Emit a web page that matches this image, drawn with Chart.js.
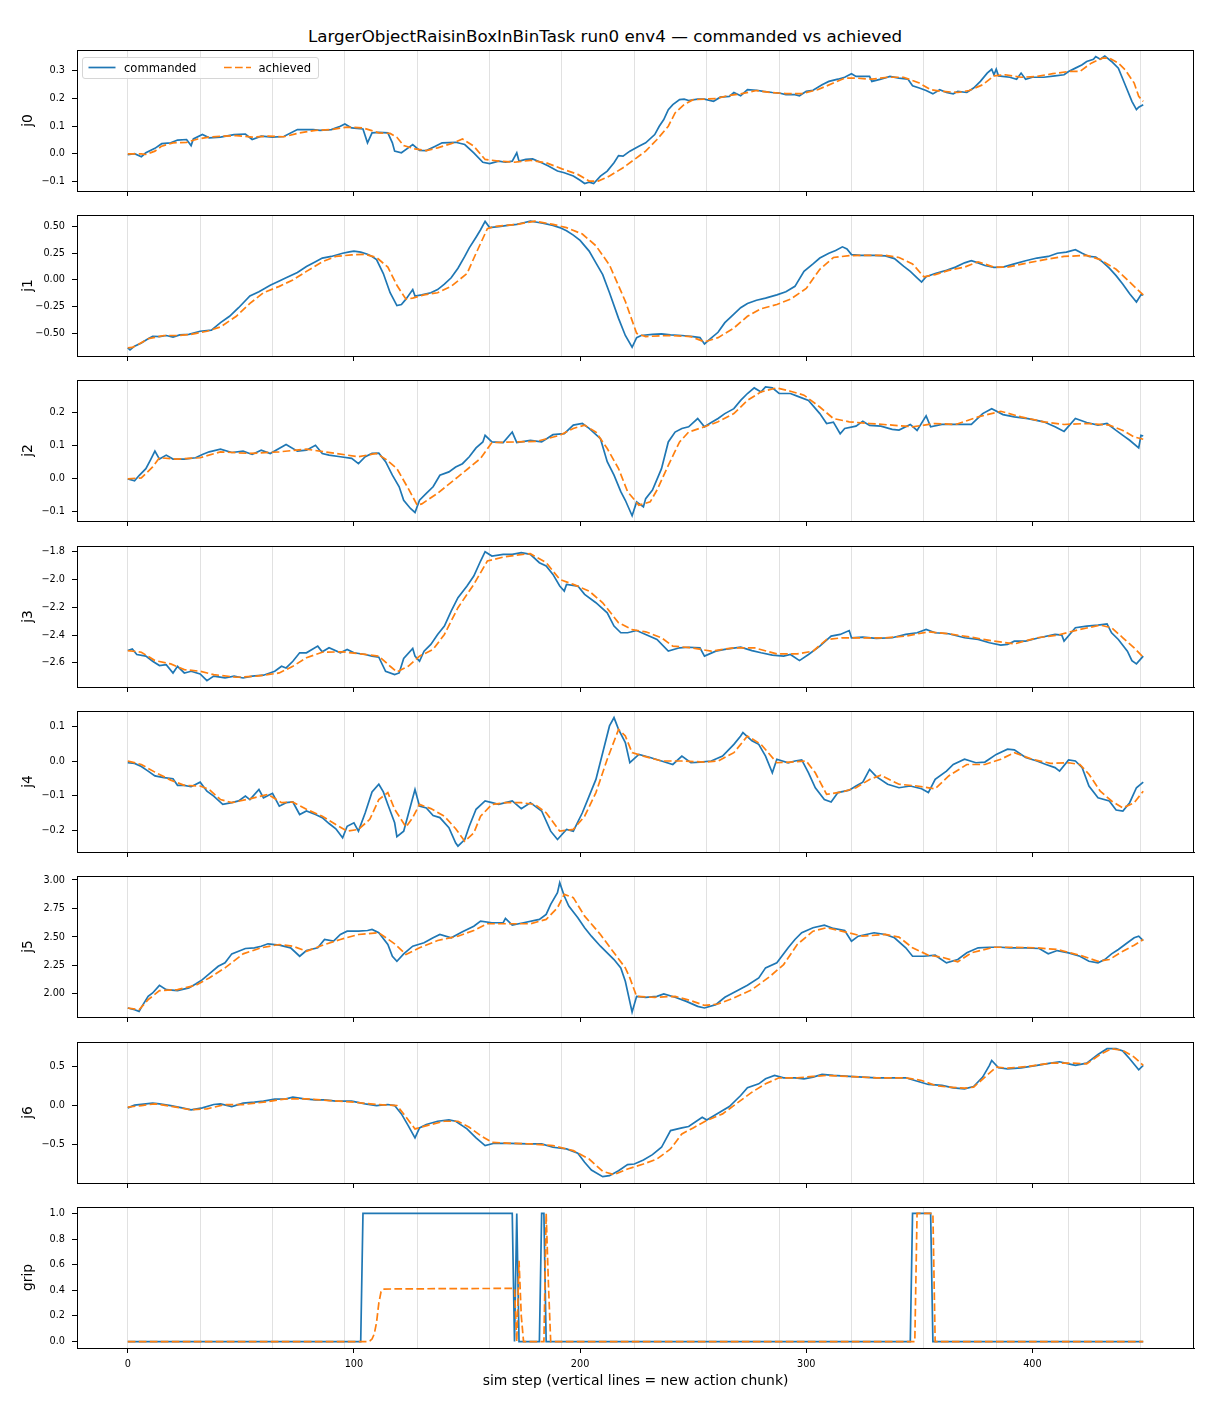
<!DOCTYPE html>
<html>
<head>
<meta charset="utf-8">
<script src="https://cdn.jsdelivr.net/npm/chart.js@4.4.1/dist/chart.umd.min.js"></script>
<style>
  html, body { margin: 0; padding: 0; background: #fff; }
  body { width: 1210px; height: 1408px; position: relative; overflow: hidden; font-family: "DejaVu Sans", sans-serif; }
  canvas.panel { position: absolute; left: 0; }
  #title { position: absolute; top: 26px; left: 0; width: 1210px; text-align: center; font-size: 16.7px; line-height: 20px; color: #000; }
  #legend { position: absolute; left: 82px; top: 57px; width: 235px; height: 20px; border: 1px solid #d6d6d6; border-radius: 3px; background: rgba(255,255,255,0.85); z-index: 5; }
  #legend svg { position: absolute; left: 0; top: 0; }
</style>
</head>
<body>
<div id="title">LargerObjectRaisinBoxInBinTask run0 env4 — commanded vs achieved</div>
<div id="legend">
  <svg width="235" height="20">
    <line x1="5.5" y1="9.5" x2="32.5" y2="9.5" stroke="#1f77b4" stroke-width="1.7"/>
    <text x="41" y="14" font-family="DejaVu Sans" font-size="11.6" fill="#000">commanded</text>
    <line x1="141" y1="9.5" x2="168" y2="9.5" stroke="#ff7f0e" stroke-width="1.7" stroke-dasharray="7.7 3.3"/>
    <text x="175.5" y="14" font-family="DejaVu Sans" font-size="11.6" fill="#000">achieved</text>
  </svg>
</div>
<script>
// ---- data: [sim step, value] ----
const j0Cmd = [[0,-0.003],[3,0.001],[6,-0.01],[8,0.004],[12,0.02],[15,0.037],[19,0.04],[22,0.05],[26,0.052],[28,0.03],[29,0.054],[33,0.07],[36,0.058],[41,0.061],[47,0.07],[52,0.072],[55,0.052],[59,0.064],[64,0.061],[69,0.063],[75,0.088],[78,0.088],[82,0.088],[85,0.085],[90,0.088],[94,0.1],[96,0.108],[99,0.094],[104,0.09],[106,0.04],[108,0.076],[111,0.078],[115,0.076],[117,0.04],[118,0.01],[121,0.004],[124,0.022],[126,0.034],[129,0.013],[132,0.012],[136,0.028],[139,0.04],[145,0.042],[149,0.034],[153,0.004],[157,-0.03],[160,-0.035],[164,-0.026],[167,-0.03],[170,-0.026],[172,0.004],[173,-0.026],[176,-0.02],[179,-0.018],[183,-0.032],[186,-0.044],[190,-0.062],[193,-0.068],[197,-0.08],[200,-0.095],[202,-0.107],[204,-0.102],[206,-0.107],[209,-0.08],[212,-0.062],[215,-0.032],[217,-0.006],[219,-0.008],[222,0.01],[226,0.028],[229,0.04],[233,0.07],[235,0.1],[237,0.124],[239,0.16],[241,0.178],[244,0.196],[246,0.198],[248,0.193],[252,0.198],[255,0.198],[259,0.19],[262,0.205],[266,0.208],[268,0.222],[271,0.21],[274,0.232],[278,0.23],[281,0.226],[285,0.222],[288,0.22],[291,0.214],[295,0.214],[297,0.21],[300,0.226],[303,0.23],[307,0.25],[310,0.262],[314,0.27],[317,0.277],[320,0.29],[322,0.28],[328,0.28],[329,0.262],[333,0.27],[337,0.28],[341,0.274],[345,0.27],[347,0.246],[350,0.238],[353,0.229],[356,0.217],[359,0.232],[362,0.222],[365,0.217],[367,0.226],[371,0.222],[374,0.238],[377,0.262],[380,0.292],[382,0.306],[383,0.286],[384,0.306],[385,0.282],[390,0.277],[393,0.27],[395,0.292],[397,0.27],[400,0.277],[405,0.277],[410,0.282],[414,0.286],[416,0.298],[419,0.31],[422,0.322],[424,0.334],[427,0.342],[428,0.352],[430,0.342],[432,0.354],[435,0.334],[438,0.31],[441,0.25],[444,0.19],[446,0.16],[447,0.169],[449,0.178]];
const j0Ach = [[0,0],[6,0],[8,-0.002],[12,0.01],[15,0.028],[20,0.04],[26,0.042],[31,0.054],[36,0.061],[41,0.064],[48,0.066],[55,0.061],[62,0.064],[69,0.062],[76,0.076],[83,0.085],[90,0.088],[97,0.097],[104,0.094],[111,0.076],[116,0.074],[119,0.06],[122,0.03],[127,0.018],[132,0.012],[137,0.022],[143,0.037],[148,0.054],[153,0.028],[158,-0.02],[164,-0.026],[171,-0.03],[178,-0.023],[185,-0.032],[192,-0.054],[199,-0.074],[204,-0.098],[208,-0.098],[213,-0.08],[219,-0.05],[224,-0.02],[229,0.01],[234,0.052],[239,0.1],[242,0.148],[246,0.178],[250,0.196],[255,0.198],[260,0.2],[265,0.21],[271,0.217],[278,0.229],[284,0.222],[291,0.218],[298,0.218],[305,0.232],[312,0.256],[317,0.274],[322,0.274],[329,0.27],[336,0.277],[343,0.277],[350,0.256],[355,0.232],[360,0.226],[367,0.222],[372,0.229],[378,0.25],[383,0.282],[388,0.286],[395,0.277],[402,0.28],[409,0.29],[416,0.298],[421,0.298],[426,0.328],[431,0.346],[434,0.346],[438,0.328],[441,0.304],[445,0.256],[447,0.208],[449,0.19]];

const j1Cmd = [[0,-0.635],[1,-0.655],[3,-0.62],[6,-0.59],[9,-0.55],[11,-0.527],[14,-0.53],[17,-0.52],[20,-0.535],[23,-0.515],[27,-0.51],[32,-0.48],[37,-0.47],[41,-0.40],[45,-0.34],[49,-0.26],[54,-0.15],[58,-0.11],[63,-0.05],[67,-0.01],[70,0.02],[75,0.07],[79,0.125],[83,0.17],[86,0.205],[90,0.22],[95,0.25],[98,0.262],[100,0.27],[103,0.26],[106,0.24],[108,0.22],[110,0.19],[113,0.06],[116,-0.12],[119,-0.24],[121,-0.23],[123,-0.18],[126,-0.09],[127,-0.15],[130,-0.14],[134,-0.12],[137,-0.09],[140,-0.04],[143,0.02],[146,0.11],[149,0.22],[151,0.30],[154,0.40],[156,0.47],[158,0.548],[160,0.49],[164,0.50],[168,0.51],[172,0.52],[175,0.535],[178,0.55],[181,0.54],[184,0.53],[188,0.51],[191,0.49],[194,0.46],[197,0.42],[200,0.37],[204,0.27],[207,0.16],[210,0.05],[213,-0.12],[217,-0.36],[220,-0.52],[223,-0.63],[225,-0.54],[227,-0.52],[232,-0.51],[236,-0.505],[240,-0.515],[245,-0.52],[250,-0.53],[253,-0.54],[255,-0.60],[257,-0.56],[261,-0.49],[264,-0.40],[268,-0.32],[271,-0.26],[274,-0.22],[278,-0.19],[282,-0.17],[287,-0.14],[291,-0.11],[295,-0.06],[299,0.08],[303,0.15],[306,0.205],[310,0.25],[313,0.275],[316,0.31],[318,0.29],[320,0.237],[324,0.23],[330,0.23],[335,0.225],[339,0.20],[343,0.13],[346,0.08],[349,0.02],[351,-0.02],[353,0.03],[357,0.06],[362,0.09],[366,0.12],[370,0.16],[373,0.18],[376,0.16],[379,0.135],[383,0.118],[387,0.12],[392,0.15],[397,0.18],[402,0.205],[407,0.22],[411,0.25],[415,0.26],[419,0.283],[422,0.25],[425,0.22],[428,0.215],[431,0.17],[434,0.11],[437,0.04],[440,-0.04],[443,-0.13],[446,-0.206],[448,-0.14],[449,-0.14]];
const j1Ach = [[0,-0.635],[2,-0.632],[5,-0.60],[9,-0.55],[16,-0.52],[22,-0.52],[28,-0.51],[35,-0.48],[41,-0.44],[48,-0.34],[54,-0.22],[60,-0.12],[67,-0.06],[73,0.0],[79,0.08],[86,0.17],[92,0.22],[99,0.235],[105,0.24],[110,0.21],[115,0.12],[119,-0.05],[123,-0.18],[126,-0.17],[131,-0.14],[137,-0.12],[143,-0.06],[150,0.06],[154,0.25],[159,0.48],[162,0.50],[172,0.52],[180,0.55],[188,0.52],[194,0.49],[201,0.43],[207,0.32],[213,0.14],[220,-0.20],[225,-0.50],[229,-0.53],[239,-0.52],[249,-0.53],[255,-0.58],[261,-0.54],[268,-0.45],[274,-0.34],[280,-0.27],[287,-0.23],[293,-0.18],[300,-0.08],[306,0.10],[312,0.21],[319,0.228],[325,0.23],[335,0.23],[341,0.21],[347,0.15],[352,0.03],[357,0.05],[363,0.09],[370,0.12],[376,0.17],[383,0.12],[389,0.12],[398,0.16],[408,0.20],[414,0.22],[424,0.23],[430,0.19],[437,0.10],[443,-0.02],[449,-0.14]];

const j2Cmd = [[0,0],[3,-0.006],[5,0.01],[8,0.031],[10,0.057],[12,0.084],[14,0.06],[17,0.072],[20,0.06],[25,0.06],[30,0.064],[33,0.074],[36,0.082],[41,0.09],[46,0.08],[51,0.084],[55,0.074],[59,0.087],[63,0.077],[70,0.104],[75,0.084],[79,0.087],[83,0.102],[86,0.077],[89,0.072],[94,0.067],[99,0.062],[102,0.046],[105,0.067],[108,0.077],[111,0.078],[114,0.052],[117,0.011],[120,-0.024],[122,-0.065],[125,-0.09],[127,-0.102],[129,-0.065],[132,-0.044],[135,-0.024],[138,0.011],[142,0.021],[145,0.036],[148,0.046],[151,0.067],[154,0.094],[157,0.112],[158,0.132],[161,0.112],[166,0.11],[170,0.142],[172,0.11],[178,0.117],[183,0.112],[188,0.134],[193,0.137],[197,0.163],[201,0.168],[204,0.153],[209,0.122],[212,0.052],[215,0.011],[218,-0.039],[220,-0.065],[223,-0.112],[225,-0.07],[228,-0.085],[229,-0.06],[232,-0.034],[236,0.031],[239,0.112],[242,0.142],[245,0.153],[248,0.158],[252,0.183],[255,0.158],[258,0.171],[261,0.183],[264,0.198],[268,0.213],[271,0.238],[274,0.259],[277,0.276],[280,0.264],[282,0.279],[285,0.276],[288,0.259],[293,0.259],[296,0.251],[301,0.238],[306,0.198],[309,0.168],[312,0.172],[315,0.137],[317,0.153],[322,0.16],[325,0.175],[328,0.162],[333,0.16],[338,0.15],[341,0.148],[346,0.165],[349,0.147],[353,0.191],[355,0.158],[360,0.165],[366,0.165],[373,0.165],[378,0.198],[382,0.213],[387,0.195],[392,0.188],[398,0.183],[405,0.173],[410,0.158],[414,0.144],[419,0.183],[424,0.171],[429,0.163],[433,0.168],[437,0.147],[440,0.132],[443,0.117],[447,0.094],[448,0.132],[449,0.13]];
const j2Ach = [[0,0],[6,0.003],[11,0.036],[14,0.064],[22,0.06],[32,0.064],[41,0.082],[54,0.077],[67,0.082],[79,0.09],[92,0.077],[102,0.067],[110,0.077],[114,0.06],[119,0.031],[124,-0.029],[128,-0.08],[130,-0.076],[137,-0.044],[146,0.006],[156,0.062],[161,0.11],[172,0.112],[181,0.114],[191,0.132],[197,0.153],[202,0.163],[207,0.142],[212,0.092],[217,0.031],[221,-0.039],[226,-0.08],[231,-0.07],[234,-0.034],[239,0.041],[244,0.112],[248,0.142],[255,0.158],[261,0.173],[268,0.198],[274,0.238],[280,0.264],[287,0.276],[293,0.266],[299,0.254],[306,0.218],[312,0.183],[319,0.173],[328,0.168],[338,0.163],[347,0.158],[357,0.168],[366,0.165],[376,0.188],[386,0.205],[395,0.188],[405,0.173],[414,0.165],[424,0.168],[434,0.163],[440,0.147],[445,0.127],[449,0.12]];

const j3Cmd = [[0,-2.511],[2,-2.50],[4,-2.539],[8,-2.551],[11,-2.588],[14,-2.619],[17,-2.612],[20,-2.672],[22,-2.624],[25,-2.672],[28,-2.66],[32,-2.679],[35,-2.727],[38,-2.695],[43,-2.708],[47,-2.695],[51,-2.708],[55,-2.695],[60,-2.688],[65,-2.66],[68,-2.624],[70,-2.636],[73,-2.588],[76,-2.527],[79,-2.527],[84,-2.479],[86,-2.52],[89,-2.491],[94,-2.527],[97,-2.503],[100,-2.527],[105,-2.539],[108,-2.551],[111,-2.559],[114,-2.66],[118,-2.684],[120,-2.672],[122,-2.568],[126,-2.496],[127,-2.551],[129,-2.588],[131,-2.515],[134,-2.467],[137,-2.395],[140,-2.335],[143,-2.227],[146,-2.131],[150,-2.047],[153,-1.975],[156,-1.867],[158,-1.8],[161,-1.831],[166,-1.819],[170,-1.819],[174,-1.807],[178,-1.819],[182,-1.879],[185,-1.903],[188,-1.963],[191,-2.047],[193,-2.083],[194,-2.035],[199,-2.047],[202,-2.107],[207,-2.167],[212,-2.239],[215,-2.335],[218,-2.383],[221,-2.383],[225,-2.367],[229,-2.395],[234,-2.431],[239,-2.515],[244,-2.491],[248,-2.487],[253,-2.491],[255,-2.551],[260,-2.515],[264,-2.503],[271,-2.487],[276,-2.511],[280,-2.527],[285,-2.544],[290,-2.551],[293,-2.539],[297,-2.583],[301,-2.539],[306,-2.479],[311,-2.407],[315,-2.395],[319,-2.367],[320,-2.419],[325,-2.415],[331,-2.424],[338,-2.419],[344,-2.395],[349,-2.383],[353,-2.359],[357,-2.383],[363,-2.39],[370,-2.419],[376,-2.431],[381,-2.455],[386,-2.472],[389,-2.467],[392,-2.443],[397,-2.443],[403,-2.419],[410,-2.395],[413,-2.40],[414,-2.443],[419,-2.347],[424,-2.335],[429,-2.328],[433,-2.319],[435,-2.383],[438,-2.431],[442,-2.515],[444,-2.583],[446,-2.607],[449,-2.551]];
const j3Ach = [[0,-2.511],[6,-2.523],[12,-2.583],[19,-2.607],[25,-2.648],[32,-2.66],[38,-2.684],[48,-2.703],[57,-2.695],[67,-2.672],[73,-2.624],[79,-2.563],[86,-2.523],[95,-2.52],[105,-2.539],[111,-2.551],[116,-2.624],[119,-2.664],[124,-2.624],[129,-2.551],[135,-2.503],[140,-2.395],[146,-2.203],[153,-2.035],[159,-1.867],[166,-1.839],[172,-1.824],[178,-1.814],[185,-1.879],[191,-1.999],[197,-2.035],[204,-2.083],[210,-2.167],[217,-2.311],[223,-2.36],[229,-2.376],[236,-2.419],[241,-2.479],[249,-2.491],[258,-2.515],[268,-2.491],[277,-2.491],[287,-2.535],[296,-2.535],[303,-2.515],[309,-2.431],[316,-2.419],[325,-2.419],[335,-2.419],[344,-2.407],[354,-2.376],[363,-2.39],[373,-2.415],[383,-2.443],[392,-2.463],[402,-2.419],[411,-2.40],[421,-2.359],[430,-2.328],[435,-2.347],[440,-2.419],[445,-2.491],[449,-2.559]];

const j4Cmd = [[0,-0.005],[3,-0.007],[6,-0.016],[9,-0.029],[12,-0.043],[16,-0.048],[20,-0.051],[22,-0.07],[25,-0.07],[28,-0.074],[32,-0.061],[35,-0.087],[38,-0.101],[42,-0.125],[46,-0.12],[49,-0.115],[52,-0.101],[54,-0.111],[58,-0.082],[60,-0.106],[64,-0.093],[67,-0.13],[70,-0.12],[73,-0.118],[76,-0.154],[79,-0.144],[83,-0.154],[86,-0.163],[89,-0.18],[92,-0.195],[95,-0.221],[97,-0.188],[100,-0.178],[102,-0.202],[105,-0.149],[108,-0.089],[111,-0.067],[113,-0.089],[115,-0.125],[118,-0.178],[119,-0.218],[122,-0.202],[124,-0.154],[127,-0.082],[129,-0.13],[132,-0.135],[135,-0.157],[138,-0.163],[142,-0.192],[145,-0.236],[146,-0.245],[149,-0.226],[151,-0.188],[154,-0.139],[158,-0.115],[161,-0.12],[164,-0.125],[167,-0.12],[170,-0.115],[174,-0.137],[178,-0.12],[183,-0.144],[187,-0.202],[190,-0.226],[194,-0.197],[197,-0.202],[201,-0.149],[204,-0.101],[207,-0.053],[210,0.024],[213,0.101],[215,0.125],[217,0.091],[220,0.053],[222,-0.005],[226,0.019],[231,0.01],[236,0.0],[241,-0.01],[245,0.014],[249,-0.005],[253,-0.003],[258,0.0],[263,0.014],[268,0.048],[271,0.072],[272,0.082],[276,0.058],[279,0.048],[282,0.014],[285,-0.034],[287,0.005],[292,-0.005],[295,0.0],[298,0.003],[301,-0.034],[304,-0.077],[308,-0.111],[311,-0.118],[314,-0.091],[319,-0.084],[322,-0.072],[325,-0.061],[328,-0.024],[331,-0.045],[336,-0.067],[341,-0.077],[346,-0.072],[351,-0.08],[354,-0.091],[357,-0.053],[362,-0.029],[365,-0.01],[370,0.005],[375,-0.005],[379,-0.003],[384,0.019],[389,0.034],[392,0.032],[397,0.01],[402,0.0],[406,-0.01],[410,-0.019],[412,-0.029],[416,0.003],[419,0.0],[422,-0.019],[425,-0.072],[429,-0.106],[434,-0.115],[437,-0.141],[440,-0.144],[443,-0.12],[446,-0.077],[449,-0.061]];
const j4Ach = [[0,0],[6,-0.01],[12,-0.032],[19,-0.055],[25,-0.07],[32,-0.072],[36,-0.082],[41,-0.111],[46,-0.12],[54,-0.109],[62,-0.096],[68,-0.12],[73,-0.118],[79,-0.139],[86,-0.159],[92,-0.183],[97,-0.202],[102,-0.197],[107,-0.168],[111,-0.111],[115,-0.091],[118,-0.139],[123,-0.19],[126,-0.163],[129,-0.125],[134,-0.137],[140,-0.159],[145,-0.195],[149,-0.231],[153,-0.207],[156,-0.159],[161,-0.125],[167,-0.12],[174,-0.12],[180,-0.125],[185,-0.149],[191,-0.202],[197,-0.197],[202,-0.159],[207,-0.091],[212,0.005],[217,0.091],[220,0.072],[223,0.024],[228,0.014],[236,0.0],[245,0.0],[255,-0.003],[261,0.0],[268,0.024],[274,0.072],[280,0.048],[287,-0.005],[293,-0.003],[300,0.0],[304,-0.034],[309,-0.096],[316,-0.089],[322,-0.077],[328,-0.053],[333,-0.041],[341,-0.067],[349,-0.072],[357,-0.08],[363,-0.043],[371,-0.01],[379,-0.01],[386,0.005],[392,0.024],[400,0.005],[408,-0.007],[416,-0.005],[421,-0.01],[425,-0.038],[430,-0.087],[435,-0.115],[440,-0.135],[445,-0.12],[449,-0.087]];

const j5Cmd = [[0,1.877],[3,1.862],[5,1.847],[6,1.882],[9,1.979],[11,2.009],[14,2.076],[17,2.038],[22,2.029],[27,2.053],[30,2.088],[33,2.126],[36,2.176],[40,2.243],[43,2.273],[46,2.352],[49,2.375],[52,2.399],[56,2.405],[59,2.419],[62,2.44],[67,2.428],[72,2.405],[76,2.331],[79,2.381],[84,2.405],[87,2.478],[91,2.463],[94,2.522],[97,2.551],[102,2.551],[106,2.557],[108,2.566],[111,2.537],[115,2.434],[117,2.331],[119,2.287],[122,2.352],[126,2.419],[131,2.449],[135,2.493],[138,2.522],[143,2.493],[148,2.545],[153,2.595],[156,2.639],[161,2.625],[166,2.625],[167,2.663],[170,2.604],[175,2.625],[182,2.654],[185,2.698],[187,2.786],[190,2.889],[191,2.977],[193,2.859],[195,2.771],[199,2.669],[202,2.581],[205,2.507],[209,2.419],[212,2.361],[215,2.302],[218,2.229],[220,2.111],[223,1.841],[225,1.979],[229,1.971],[234,1.979],[237,2.0],[242,1.971],[247,1.935],[252,1.891],[255,1.877],[260,1.906],[264,1.971],[269,2.023],[274,2.076],[279,2.141],[282,2.229],[287,2.273],[292,2.405],[295,2.478],[298,2.537],[303,2.581],[308,2.604],[312,2.575],[317,2.557],[320,2.463],[323,2.507],[330,2.537],[335,2.522],[339,2.493],[344,2.405],[347,2.331],[352,2.331],[357,2.34],[362,2.273],[367,2.302],[371,2.361],[376,2.405],[381,2.41],[386,2.41],[390,2.405],[397,2.405],[403,2.399],[407,2.352],[411,2.381],[416,2.361],[421,2.331],[425,2.287],[429,2.273],[432,2.302],[435,2.352],[438,2.39],[442,2.449],[445,2.493],[447,2.507],[449,2.469]];
const j5Ach = [[0,1.877],[5,1.862],[9,1.95],[14,2.029],[22,2.038],[30,2.076],[36,2.141],[43,2.229],[51,2.352],[59,2.405],[67,2.434],[73,2.419],[79,2.375],[87,2.434],[94,2.478],[102,2.522],[111,2.537],[118,2.44],[123,2.346],[129,2.405],[137,2.469],[146,2.507],[153,2.557],[159,2.616],[169,2.616],[178,2.616],[185,2.654],[190,2.757],[193,2.874],[197,2.845],[202,2.683],[209,2.522],[215,2.361],[220,2.229],[222,2.141],[225,1.979],[233,1.971],[242,1.979],[249,1.941],[255,1.9],[261,1.912],[268,1.965],[276,2.038],[284,2.155],[290,2.258],[296,2.434],[303,2.551],[309,2.581],[317,2.545],[325,2.507],[335,2.522],[341,2.499],[347,2.405],[354,2.34],[360,2.322],[367,2.282],[373,2.361],[383,2.41],[392,2.41],[402,2.405],[411,2.39],[421,2.34],[429,2.287],[434,2.302],[440,2.375],[445,2.428],[449,2.478]];

const j6Cmd = [[0,-0.026],[3,0.009],[8,0.026],[11,0.034],[14,0.026],[19,0.004],[24,-0.026],[28,-0.051],[33,-0.026],[38,0.017],[41,0.026],[46,-0.009],[51,0.034],[56,0.047],[60,0.06],[65,0.085],[70,0.09],[73,0.111],[78,0.09],[83,0.077],[87,0.077],[92,0.06],[99,0.06],[105,0.026],[110,0.004],[115,0.017],[118,0.004],[121,-0.103],[124,-0.252],[127,-0.41],[129,-0.282],[132,-0.239],[137,-0.197],[142,-0.18],[145,-0.197],[150,-0.295],[154,-0.41],[158,-0.509],[162,-0.479],[169,-0.479],[177,-0.487],[183,-0.487],[188,-0.53],[194,-0.551],[199,-0.607],[202,-0.722],[205,-0.821],[210,-0.906],[213,-0.893],[217,-0.829],[221,-0.752],[224,-0.744],[228,-0.692],[232,-0.624],[236,-0.53],[240,-0.316],[245,-0.282],[248,-0.265],[254,-0.145],[256,-0.18],[261,-0.094],[266,-0.009],[271,0.132],[274,0.231],[279,0.282],[282,0.346],[286,0.389],[290,0.359],[295,0.359],[299,0.346],[303,0.368],[307,0.402],[312,0.389],[319,0.376],[325,0.368],[331,0.359],[338,0.359],[344,0.359],[348,0.325],[354,0.274],[360,0.261],[365,0.231],[370,0.218],[374,0.248],[378,0.368],[381,0.517],[382,0.581],[385,0.487],[389,0.474],[395,0.487],[402,0.517],[408,0.547],[412,0.564],[416,0.538],[419,0.517],[424,0.547],[429,0.658],[433,0.731],[437,0.731],[440,0.701],[443,0.603],[447,0.462],[449,0.517]];
const j6Ach = [[0,-0.017],[6,0.004],[12,0.026],[20,-0.009],[28,-0.051],[35,-0.038],[43,0.017],[51,0.017],[60,0.047],[70,0.09],[79,0.09],[89,0.068],[100,0.047],[110,0.017],[119,0.004],[122,-0.103],[127,-0.295],[134,-0.239],[140,-0.197],[146,-0.197],[151,-0.274],[156,-0.38],[161,-0.466],[169,-0.479],[178,-0.487],[188,-0.509],[197,-0.573],[204,-0.68],[210,-0.838],[215,-0.88],[221,-0.808],[228,-0.744],[234,-0.68],[240,-0.551],[245,-0.359],[250,-0.282],[256,-0.188],[263,-0.103],[269,0.026],[276,0.175],[282,0.282],[288,0.359],[296,0.359],[303,0.376],[309,0.389],[319,0.376],[331,0.359],[344,0.359],[351,0.325],[357,0.261],[363,0.239],[370,0.226],[374,0.239],[379,0.368],[384,0.496],[389,0.483],[398,0.504],[408,0.547],[418,0.547],[424,0.538],[430,0.658],[435,0.731],[440,0.709],[445,0.624],[449,0.517]];

const gripCmd = [[0,0],[103,0],[104,1],[170,1],[171,0],[172,1],[173,0],[182,0],[183,1],[184,1],[185,0],[346,0],[347,1],[355,1],[356,0],[449,0]];
const gripAch = [[0,0],[106,0],[107,0.005],[108,0.02],[109,0.06],[110,0.15],[111,0.3],[112,0.39],[113,0.41],[140,0.413],[171,0.415],[172,0],[173,0.63],[174,0.2],[175,0],[184,0],[185,1],[186,0.45],[187,0],[348,0],[349,1],[356,1],[357,0],[449,0]];

// action chunk boundaries (vertical lines) and tick labels
const chunkStarts = [0, 32, 64, 96, 128, 160, 192, 224, 256, 288, 320, 352, 384, 416, 448];
const xTicks = [0, 100, 200, 300, 400];
const xTickLabels = ['0', '100', '200', '300', '400'];
const j0Ticks = [-0.1, 0, 0.1, 0.2, 0.3];
const j0TickLabels = ['\u22120.1', '0.0', '0.1', '0.2', '0.3'];
const j1Ticks = [-0.5, -0.25, 0, 0.25, 0.5];
const j1TickLabels = ['\u22120.50', '\u22120.25', '0.00', '0.25', '0.50'];
const j2Ticks = [-0.1, 0, 0.1, 0.2];
const j2TickLabels = ['\u22120.1', '0.0', '0.1', '0.2'];
const j3Ticks = [-2.6, -2.4, -2.2, -2.0, -1.8];
const j3TickLabels = ['\u22122.6', '\u22122.4', '\u22122.2', '\u22122.0', '\u22121.8'];
const j4Ticks = [-0.2, -0.1, 0, 0.1];
const j4TickLabels = ['\u22120.2', '\u22120.1', '0.0', '0.1'];
const j5Ticks = [2.0, 2.25, 2.5, 2.75, 3.0];
const j5TickLabels = ['2.00', '2.25', '2.50', '2.75', '3.00'];
const j6Ticks = [-0.5, 0, 0.5];
const j6TickLabels = ['\u22120.5', '0.0', '0.5'];
const gripTicks = [0, 0.2, 0.4, 0.6, 0.8, 1.0];
const gripTickLabels = ['0.0', '0.2', '0.4', '0.6', '0.8', '1.0'];

// ---- layout ----
const FONT = 'DejaVu Sans';
const X_MIN = -22.45, X_MAX = 471.45;
const PAD_TOP = 12;
const PLOT_H = 141;
const panelTops = [50, 215, 380, 546, 711, 876, 1042, 1207];

const panels = [
  { label: 'j0', cmd: j0Cmd, ach: j0Ach, min: -0.134, max: 0.3755, ticks: j0Ticks, labels: j0TickLabels },
  { label: 'j1', cmd: j1Cmd, ach: j1Ach, min: -0.712, max: 0.608, ticks: j1Ticks, labels: j1TickLabels },
  { label: 'j2', cmd: j2Cmd, ach: j2Ach, min: -0.128, max: 0.300, ticks: j2Ticks, labels: j2TickLabels },
  { label: 'j3', cmd: j3Cmd, ach: j3Ach, min: -2.773, max: -1.759, ticks: j3Ticks, labels: j3TickLabels },
  { label: 'j4', cmd: j4Cmd, ach: j4Ach, min: -0.262, max: 0.144, ticks: j4Ticks, labels: j4TickLabels },
  { label: 'j5', cmd: j5Cmd, ach: j5Ach, min: 1.798, max: 3.035, ticks: j5Ticks, labels: j5TickLabels },
  { label: 'j6', cmd: j6Cmd, ach: j6Ach, min: -0.987, max: 0.817, ticks: j6Ticks, labels: j6TickLabels },
  { label: 'grip', cmd: gripCmd, ach: gripAch, min: -0.05, max: 1.05, ticks: gripTicks, labels: gripTickLabels }
];

function toXY(pairs) {
  return pairs.map(p => ({ x: p[0], y: p[1] }));
}

// drop the label-overhang padding so the plot box sits exactly where we put it
function noPad(s) {
  s.paddingTop = 0; s.paddingBottom = 0; s.paddingLeft = 0; s.paddingRight = 0;
}

// axes frame (all four spines)
const framePlugin = {
  id: 'frame',
  afterDatasetsDraw(chart) {
    const a = chart.chartArea;
    const ctx = chart.ctx;
    ctx.save();
    ctx.strokeStyle = '#000';
    ctx.lineWidth = 1;
    ctx.strokeRect(Math.round(a.left) + 0.5, Math.round(a.top) + 0.5,
                   Math.round(a.right - a.left) - 1, Math.round(a.bottom - a.top));
    ctx.restore();
  }
};

panels.forEach((p, i) => {
  const isLast = i === panels.length - 1;
  const bottomH = isLast ? 52 : 8;
  const canvas = document.createElement('canvas');
  canvas.className = 'panel';
  canvas.width = 1210;
  canvas.height = PAD_TOP + PLOT_H + bottomH;
  canvas.style.top = (panelTops[i] - PAD_TOP) + 'px';
  canvas.style.width = '1210px';
  canvas.style.height = canvas.height + 'px';
  document.body.appendChild(canvas);

  new Chart(canvas, {
    type: 'line',
    data: {
      datasets: [
        { label: 'commanded', data: toXY(p.cmd), borderColor: '#1f77b4', borderWidth: 1.7,
          pointRadius: 0, tension: 0, fill: false, order: 1 },
        { label: 'achieved', data: toXY(p.ach), borderColor: '#ff7f0e', borderWidth: 1.7,
          borderDash: [7.7, 3.3], pointRadius: 0, tension: 0, fill: false, order: 0 }
      ]
    },
    options: {
      responsive: false,
      animation: false,
      devicePixelRatio: 1,
      parsing: false,
      layout: { padding: { top: PAD_TOP, right: 16, left: 0, bottom: 0 } },
      plugins: { legend: { display: false }, tooltip: { enabled: false } },
      scales: {
        x: {
          type: 'linear', position: 'bottom', min: X_MIN, max: X_MAX,
          afterBuildTicks: s => { s.ticks = xTicks.map(v => ({ value: v })); },
          afterFit: s => { s.height = bottomH; noPad(s); },
          grid: { drawOnChartArea: false, drawTicks: true, tickLength: 5, tickColor: '#000', tickWidth: 1 },
          border: { display: true, color: '#000', width: 1 },
          ticks: { display: isLast, autoSkip: false, maxRotation: 0, padding: 6, color: '#000',
                   font: { family: FONT, size: 9.7 }, callback: (v, idx) => xTickLabels[idx] },
          title: { display: isLast, text: 'sim step (vertical lines = new action chunk)', color: '#000',
                   font: { family: FONT, size: 13.9 }, padding: { top: 0, bottom: 10 } }
        },
        chunk: {
          type: 'linear', position: 'bottom', min: X_MIN, max: X_MAX,
          afterBuildTicks: s => { s.ticks = chunkStarts.map(v => ({ value: v })); },
          afterFit: s => { s.height = 0; noPad(s); },
          grid: { drawOnChartArea: true, drawTicks: false, color: 'rgba(128,128,128,0.3)', lineWidth: 0.8 },
          border: { display: false },
          ticks: { display: false }
        },
        y: {
          type: 'linear', position: 'left', min: p.min, max: p.max,
          afterBuildTicks: s => { s.ticks = p.ticks.map(v => ({ value: v })); },
          afterFit: s => { s.width = 77; noPad(s); },
          grid: { drawOnChartArea: false, drawTicks: true, tickLength: 5, tickColor: '#000', tickWidth: 1 },
          border: { display: true, color: '#000', width: 1 },
          ticks: { autoSkip: false, padding: 7, color: '#000', font: { family: FONT, size: 9.7 },
                   callback: (v, idx) => p.labels[idx] },
          title: { display: true, text: p.label, color: '#000', font: { family: FONT, size: 13.9 },
                   padding: { top: 20, bottom: 0 } }
        }
      }
    },
    plugins: [framePlugin]
  });
});
</script>
</body>
</html>
